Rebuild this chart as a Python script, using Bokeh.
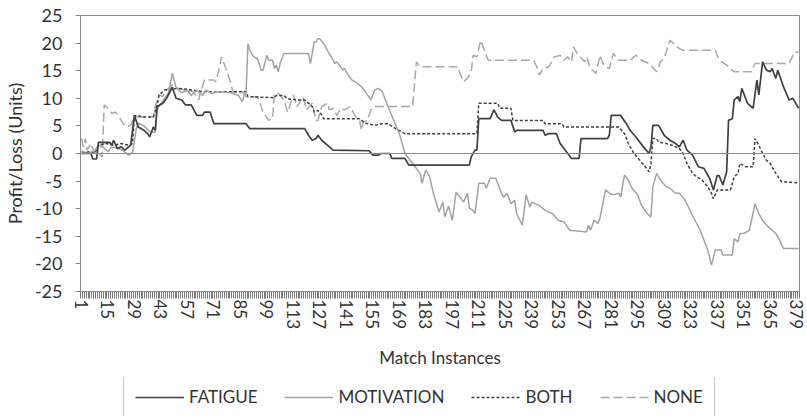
from bokeh.plotting import figure
from bokeh.layouts import column
from bokeh.models import FixedTicker, Span, Legend, LegendItem, Range1d
from bokeh.embed import file_html
from bokeh.resources import INLINE

# ---------------- data ----------------
fatigue_x = [1, 6, 7, 9, 10, 16, 17, 18, 20, 22, 24, 27, 29, 31, 34, 36, 37, 39, 40, 41,
             44, 46, 49, 51, 54, 56, 59, 62, 65, 66, 69, 71, 88, 90, 119, 121, 123, 125,
             126, 128, 131, 134, 153, 155, 158, 159, 164, 165, 172, 174, 206, 207, 209,
             210, 211, 217, 219, 221, 223, 228, 230, 231, 245, 246, 248, 252, 254, 256,
             258, 260, 264, 265, 279, 280, 281, 286, 289, 291, 294, 298, 301, 302, 303,
             306, 309, 312, 315, 317, 319, 321, 324, 327, 330, 333, 335, 337, 338, 340,
             342, 343, 345, 346, 348, 349, 350, 353, 356, 358, 359, 361, 363, 365, 366,
             368, 369, 372, 375, 377, 380]
fatigue_y = [0, 0, -1, -1, 2, 2, 1.5, 2.4, 0.9, 1.2, 0.6, 1.5, 6.9, 4.8, 4.2, 3.6, 3.0, 4.8, 4.2, 8.5,
             9.1, 10.0, 12.0, 10.0, 9.7, 8.8, 8.8, 6.9, 6.9, 7.5, 7.5, 5.4, 5.4, 4.5, 4.5, 3.3, 2.4, 2.7,
             3.3, 2.4, 1.5, 0.6, 0.5, -0.3, -0.3, 0, 0, -0.9, -0.9, -2.1, -2.1, -0.6, 0.6,
             0.6, 6.3, 6.3, 7.9, 6.6, 6.0, 6.0, 3.9, 4.2, 4.2, 3.3, 3.6, 3.6, 1.8, 0.9,
             0, -0.9, -0.9, 2.7, 2.7, 3.3, 6.9, 6.9, 5.4, 4.2, 3.0, 1.2, 0, 1.2, 5.1,
             5.1, 3.3, 2.4, 1.8, 1.2, 2.4, 0.6, -0.3, -2.4, -2.7, -4.5, -6.6, -4.0, -4.0, -5.7,
             -3.3, 6.0, 6.3, 9.7, 10.3, 9.4, 11.8, 9.1, 8.2, 13.3, 10.6, 16.6, 15.1, 14.8, 15.4,
             13.6, 15.1, 12.1, 9.7, 10.0, 8.2]

motivation_x = [1, 4, 8, 10, 13, 15, 17, 20, 23, 26, 28, 30, 31, 34, 37, 40, 41, 44, 47, 49,
                51, 54, 57, 59, 62, 65, 67, 70, 72, 80, 84, 86, 87, 88, 89, 90, 92, 94, 96, 97,
                99, 100, 102, 103, 104, 105, 106, 108, 121, 122, 124, 125, 126, 127, 129, 131,
                134, 135, 136, 138, 139, 140, 142, 144, 147, 149, 151, 154, 156, 158, 160, 163,
                169, 172, 176, 178, 180, 181, 183, 185, 187, 190, 192, 193, 195, 197, 199, 201,
                203, 205, 206, 208, 209, 211, 214, 215, 217, 220, 222, 224, 226, 228, 230, 231,
                234, 236, 238, 239, 243, 246, 250, 253, 256, 259, 268, 269, 270, 272, 274, 275,
                278, 280, 282, 285, 286, 288, 290, 292, 295, 297, 300, 302, 303, 305, 307, 310,
                312, 315, 317, 320, 323, 328, 332, 334, 336, 339, 340, 345, 346, 348, 349, 351,
                354, 357, 359, 361, 364, 368, 370, 372, 380]
motivation_y = [0.5, 0, 0.5, 1.5, 1.0, 0.3, 1.2, 1.0, 0.5, -0.3, 0.2, 4.5, 5.5, 5.0, 4.0, 3.8, 8.0, 9.5, 11.0, 14.5,
                12.0, 11.0, 11.5, 10.5, 11.5, 10.5, 11.5, 10.8, 11.2, 11.0, 10.5, 9.4, 10.5, 11.0, 19.9, 18.7, 17.5, 17.2, 15.1, 15.1,
                17.8, 16.9, 16.9, 15.4, 16.0, 14.8, 16.3, 18.1, 18.1, 16.3, 20.2, 20.2, 20.8, 20.8, 19.9, 18.7,
                16.9, 16.3, 16.6, 15.7, 15.1, 15.4, 14.2, 13.3, 12.7, 12.1, 11.2, 9.7, 11.5, 11.8, 11.2, 8.5,
                3.6, 0, -1.8, -2.7, -3.6, -5.4, -3.0, -4.2, -7.2, -10.6, -8.8, -11.5, -9.5, -12.1, -7.0, -7.9,
                -8.8, -7.2, -9.9, -10.3, -10.9, -5.4, -5.4, -6.3, -4.5, -4.5, -6.3, -7.9, -7.2, -9.1, -8.5, -10.9,
                -13.0, -7.5, -9.7, -8.8, -9.4, -10.3, -10.9, -12.1, -12.4, -13.9, -14.2, -13.0, -13.9, -12.1, -12.7, -11.8,
                -6.6, -7.2, -7.5, -7.2, -7.9, -3.9, -4.8, -6.3, -7.5, -9.4, -10.9, -11.5, -6.0, -3.6, -4.8, -6.0,
                -6.3, -7.2, -7.2, -8.4, -10.6, -13.9, -17.5, -20.2, -17.5, -17.5, -18.4, -18.4, -15.4, -16.0, -14.5, -14.5,
                -13.9, -9.1, -10.9, -12.1, -13.3, -14.5, -15.7, -17.2, -17.2]

both_x = [1, 5, 8, 10, 14, 18, 22, 26, 28, 29, 34, 39, 41, 42, 45, 52, 60, 65, 88, 89,
          103, 104, 108, 110, 116, 119, 123, 124, 126, 128, 129, 148, 151, 156, 160, 163,
          167, 172, 210, 211, 221, 222, 228, 229, 245, 246, 255, 256, 285, 288, 290, 293,
          296, 299, 301, 302, 303, 305, 306, 310, 313, 317, 319, 321, 324, 326, 329, 332,
          334, 335, 337, 344, 346, 348, 349, 352, 356, 357, 359, 361, 363, 365, 368, 371, 380]
both_y = [0, 0.3, 0, 1.5, 1.8, 1.5, 1.8, 1.5, 1.8, 6.9, 6.6, 6.6, 8.8, 10.6, 11.5, 11.8, 11.5, 11.2, 11.2, 10.3,
          10.1, 10.5, 10.5, 9.9, 9.7, 9.7, 8.5, 7.5, 7.8, 7.0, 6.3, 6.3, 5.5, 5.1, 5.4, 5.4,
          4.5, 3.6, 3.6, 9.1, 9.1, 8.2, 8.2, 6.0, 6.0, 5.4, 5.4, 4.8, 4.8, 3.6, 1.8, 0,
          -1.2, -2.4, -3.3, -1.8, 2.7, 2.7, 2.1, 1.8, 1.5, 0.9, 0.0, -1.8, -3.6, -4.2, -4.8, -6.0,
          -7.2, -8.2, -6.6, -6.6, -4.2, -3.6, -1.8, -2.4, -2.4, 2.7, 1.5, 0, -1.2, -1.8, -3.6, -5.1, -5.3]

none_x = [1, 2, 3, 4, 6, 8, 10, 12, 13, 15, 17, 19, 21, 23, 25, 27, 29, 39, 40, 42,
          44, 46, 49, 52, 56, 60, 62, 63, 64, 66, 71, 72, 74, 75, 77, 80, 81, 86, 88, 94,
          95, 97, 100, 102, 103, 105, 108, 110, 113, 115, 118, 120, 123, 125, 126, 128, 131,
          132, 134, 136, 138, 140, 143, 146, 148, 149, 150, 152, 154, 156, 176, 177, 178,
          180, 200, 201, 203, 205, 207, 208, 210, 212, 216, 240, 242, 243, 245, 248, 251,
          254, 256, 258, 260, 261, 263, 267, 268, 270, 273, 275, 277, 280, 282, 285, 291,
          294, 297, 301, 305, 307, 309, 312, 314, 317, 319, 336, 338, 342, 346, 355, 357,
          375, 378, 380]
none_y = [2.7, 1.2, 2.7, 0.6, 1.8, 0, 0, -0.6, 8.8, 8.2, 7.3, 7.5, 6.6, 5.4, 4.8, 5.1, 6.6, 6.6, 8.5, 10.6,
          10.3, 11.5, 12.4, 11.8, 11.5, 11.2, 10.3, 9.7, 11.2, 13.3, 13.3, 13.0, 15.7, 17.5, 15.7, 12.7, 11.2, 11.2, 10.3, 10.3,
          9.4, 7.5, 6.0, 6.3, 10.9, 10.9, 9.7, 7.5, 10.6, 8.5, 10.3, 7.9, 9.1, 6.0, 6.0, 8.5, 9.1,
          7.9, 8.2, 6.9, 8.2, 7.9, 8.5, 6.6, 6.0, 4.2, 5.7, 6.0, 7.9, 8.5, 8.5, 12.4, 16.6,
          15.7, 15.7, 14.5, 13.0, 13.6, 14.8, 17.8, 17.5, 20.5, 16.9, 16.9, 15.4, 14.2, 15.4, 15.7, 17.5,
          17.8, 16.9, 17.5, 16.6, 19.3, 18.1, 16.6, 17.5, 15.4, 14.5, 17.8, 16.0, 15.4, 18.1, 16.9, 16.9,
          17.8, 16.9, 16.3, 14.8, 16.6, 17.2, 20.5, 19.9, 19.0, 18.7, 18.7, 16.9, 16.0, 14.8, 14.8, 16.3,
          16.3, 18.4, 18.4]

x_tick_values = [1, 15, 29, 43, 57, 71, 85, 99, 113, 127, 141, 155, 169, 183, 197, 211,
                 225, 239, 253, 267, 281, 295, 309, 323, 337, 351, 365, 379]
y_tick_values = [-25, -20, -15, -10, -5, 0, 5, 10, 15, 20, 25]
y_tick_labels = ["-25", "-20", "-15", "-10", "-5", "0", "5", "10", "15", "20", "25"]
series_names = ["FATIGUE", "MOTIVATION", "BOTH", "NONE"]
n_instances = 380

# ---------------- styles ----------------
FONT = "Lato"
TXT = "#333333"
AX = "#8c8c8c"
W = 807
BORDER_L, BORDER_R = 80, 8
styles = {
    "FATIGUE": dict(line_color="#404040", line_width=1.7),
    "MOTIVATION": dict(line_color="#a3a3a3", line_width=1.5),
    "BOTH": dict(line_color="#404040", line_width=1.5, line_dash="3 2"),
    "NONE": dict(line_color="#a8a8a8", line_width=1.5, line_dash="9 4"),
}

# ---------------- main figure ----------------
p = figure(width=W, height=377, output_backend="svg", toolbar_location=None,
           x_range=Range1d(0.5, n_instances + 0.5), y_range=Range1d(-25, 25),
           min_border_left=BORDER_L, min_border_right=BORDER_R, min_border_top=15,
           min_border_bottom=86)
p.grid.visible = False
p.outline_line_color = AX
p.outline_line_width = 1
p.background_fill_color = "white"
p.border_fill_color = "white"

boundaries = [i + 0.5 for i in range(0, n_instances + 1)]
p.xaxis.ticker = FixedTicker(ticks=x_tick_values, minor_ticks=boundaries)
p.xaxis.major_label_orientation = "vertical"
p.xaxis.major_tick_line_color = None
p.xaxis.major_tick_out = 7
p.xaxis.major_tick_in = 0
p.xaxis.minor_tick_out = 7
p.xaxis.minor_tick_in = 0
p.xaxis.minor_tick_line_color = "#7a7a7a"
p.xaxis.major_label_standoff = 1
p.xaxis.axis_label = "Match Instances"
p.xaxis.axis_label_standoff = 15

p.yaxis.ticker = FixedTicker(ticks=y_tick_values)
p.yaxis.major_label_overrides = dict(zip(y_tick_values, y_tick_labels))
p.yaxis.major_tick_out = 5
p.yaxis.major_tick_in = 0
p.yaxis.minor_tick_line_color = None
p.yaxis.major_tick_line_color = AX
p.yaxis.major_label_standoff = 13
p.yaxis.axis_label = "Profit/Loss (Units)"
p.yaxis.axis_label_standoff = 6

for ax in (p.xaxis, p.yaxis):
    ax.axis_line_color = AX
    ax.major_label_text_font = FONT
    ax.major_label_text_color = TXT
    ax.axis_label_text_font = FONT
    ax.axis_label_text_font_size = "18px"
    ax.axis_label_text_font_style = "normal"
    ax.axis_label_text_color = TXT
p.xaxis.major_label_text_font_size = "17px"
p.yaxis.major_label_text_font_size = "18px"
p.xaxis.axis_label_text_font_size = "17px"

p.add_layout(Span(location=0, dimension="width", line_color=AX, line_width=1))

p.line(none_x, none_y, **styles["NONE"])
p.line(both_x, both_y, **styles["BOTH"])
p.line(motivation_x, motivation_y, **styles["MOTIVATION"])
p.line(fatigue_x, fatigue_y, **styles["FATIGUE"])

# ---------------- legend strip (same borders as the main plot) ----------------
lg = figure(width=W, height=39, output_backend="svg", toolbar_location=None,
            x_range=Range1d(0, 1), y_range=Range1d(0, 1),
            min_border_left=BORDER_L, min_border_right=BORDER_R,
            min_border_top=0, min_border_bottom=0)
lg.axis.visible = False
lg.grid.visible = False
lg.outline_line_color = None
lg.background_fill_color = "white"
lg.border_fill_color = "white"
items = []
for name in series_names:
    r = lg.line([5, 6], [5, 6], **styles[name])  # off-range: only its legend swatch shows
    items.append(LegendItem(label=name, renderers=[r]))

legend = Legend(items=items, orientation="horizontal", location=(43, -3),
                glyph_width=49, glyph_height=20, label_standoff=5, spacing=27,
                padding=11, margin=0, border_line_color=AX, border_line_width=1,
                background_fill_color="white", background_fill_alpha=1,
                label_text_font=FONT, label_text_font_size="17px", label_text_color=TXT)
lg.add_layout(legend)

layout = column(p, lg, spacing=0)
open("out.html", "w").write(file_html(layout, INLINE))
